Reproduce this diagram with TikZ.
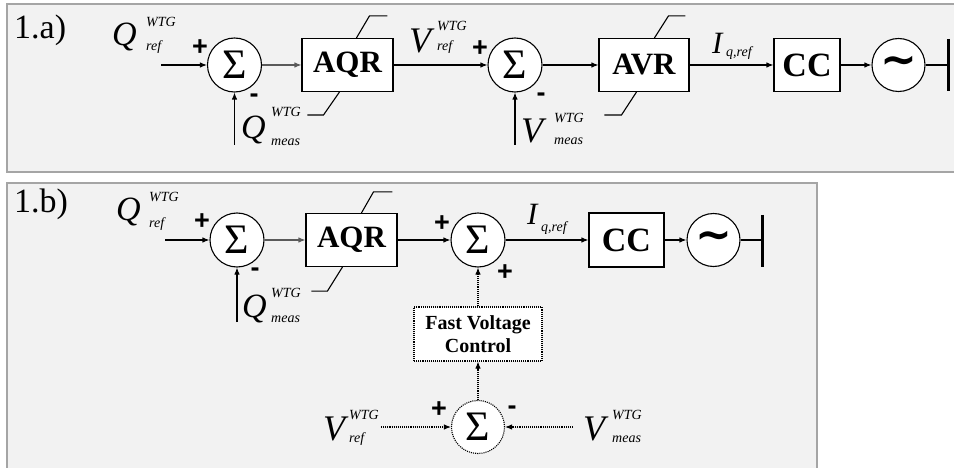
\documentclass[tikz,border=0pt]{standalone}
\usepackage{fontspec}
\setmainfont{Liberation Serif}
\newfontfamily\sgnfont{Liberation Sans}
\newfontfamily\djv{DejaVu Sans}
\usetikzlibrary{arrows.meta,calc}
\definecolor{panelfill}{HTML}{F2F2F2}
\definecolor{panelborder}{HTML}{A5A5A5}
\definecolor{darkarrow}{HTML}{5A5A5A}
\begin{document}
\begin{tikzpicture}[x=1pt,y=-1pt,
  panel/.style={fill=panelfill,draw=panelborder,line width=1.5pt},
  blk/.style={draw,fill=white,line width=1.1pt,inner sep=0pt,minimum height=53pt,font=\fontsize{31}{31}\selectfont\bfseries},
  sumn/.style={circle,draw,fill=white,line width=1.1pt,minimum size=54pt,inner sep=0pt,font=\fontsize{42}{42}\selectfont},
  gen/.style={circle,draw,fill=white,line width=1.1pt,minimum size=53pt,inner sep=0pt,font=\fontsize{44}{44}\selectfont\djv\bfseries},
  sgn/.style={inner sep=0pt,font=\fontsize{27}{27}\selectfont\sgnfont\bfseries},
  bigQ/.style={inner sep=0pt,anchor=base west,font=\fontsize{34}{34}\selectfont\itshape},
  bigV/.style={inner sep=0pt,anchor=base west,font=\fontsize{36}{36}\selectfont\itshape},
  bigI/.style={inner sep=0pt,anchor=base west,font=\fontsize{31}{31}\selectfont\itshape},
  sml/.style={inner sep=0pt,anchor=base west,font=\fontsize{14}{14}\selectfont\itshape},
  ttl/.style={inner sep=0pt,anchor=base west,font=\fontsize{34}{34}\selectfont},
  sig/.style={-{Latex[length=7pt,width=5.5pt]},line width=1.1pt},
  dsig/.style={sig,densely dotted},
  lim/.style={line width=1.1pt},
  bus/.style={line width=3pt}
]
\useasboundingbox (0,0) rectangle (954,468);
% panels
\path[panel] (7,4) rectangle (962,172);
\path[panel] (7,183) rectangle (817,476);

% ---------- panel 1.a ----------
\node[ttl] (ta) at (14,39) {1.a)};
\node[sumn] (s1a) at (234.5,65) {Σ};
\node[blk,minimum width=91pt] (aqra) at (347.5,65) {AQR};
\node[sumn] (s2a) at (515,65) {Σ};
\node[blk,minimum width=90pt] (avra) at (644,65) {AVR};
\node[blk,minimum width=66pt,font=\fontsize{34}{34}\selectfont\bfseries] (cca) at (807,65) {CC};
\node[gen] (gena) at (898.5,65) {∼};
\coordinate (busa) at (948,65);
\coordinate (busat) at (948,39);
\coordinate (busab) at (948,91);
\coordinate (qina) at (161,65);
\coordinate (qma) at (234.5,145);
\coordinate (vma) at (515,145);

\draw[sig] (qina) -- (s1a);
\draw[sig] (qma) -- (s1a);
\draw[sig,darkarrow] (s1a) -- (aqra);
\draw[sig] (aqra) -- (s2a);
\draw[sig] (vma) -- (s2a);
\draw[sig] (s2a) -- (avra);
\draw[sig] (avra) -- (cca);
\draw[sig] (cca) -- (gena);
\draw[line width=1.1pt] (gena) -- (busa);
\draw[bus] (busat) -- (busab);

\draw[lim] ($(aqra.north west)+(55,0)$) -- ++(13,-22) -- ++(18,0);
\draw[lim] ($(aqra.south west)+(38,0)$) -- ++(-16,23) -- ++(-16,0);
\draw[lim] ($(avra.north west)+(56,0)$) -- ++(14,-22) -- ++(17,0);
\draw[lim] ($(avra.south west)+(38,0)$) -- ++(-15,23) -- ++(-17,0);

\node[sgn] (p1a) at (200,48) {+};
\node[sgn] (m1a) at (254,98) {-};
\node[sgn] (p2a) at (480,49) {+};
\node[sgn] (m2a) at (541,97) {-};

\node[bigQ] (qra) at (112,46) {Q};
\node[sml] (qraw) at (146,27) {WTG};
\node[sml] (qrar) at (146,51) {ref};
\node[bigQ] (qmla) at (241,139) {Q};
\node[sml] (qmlaw) at (271,117) {WTG};
\node[sml] (qmlam) at (271,146) {meas};
\node[bigV] (vra) at (409,53) {V};
\node[sml] (vraw) at (437,31) {WTG};
\node[sml] (vrar) at (437,51) {ref};
\node[bigV] (vmla) at (521,143) {V};
\node[sml] (vmlaw) at (554,123) {WTG};
\node[sml] (vmlam) at (554,145) {meas};
\node[bigI] (ia) at (712,54) {I};
\node[sml] (iasub) at (726,57) {q,ref};

% ---------- panel 1.b ----------
\node[ttl] (tb) at (14,213) {1.b)};
\node[sumn] (s1b) at (237,240) {Σ};
\node[blk,minimum width=91pt] (aqrb) at (351.5,240) {AQR};
\node[sumn] (s2b) at (478,240) {Σ};
\node[blk,minimum width=75pt,minimum height=54pt,font=\fontsize{34}{34}\selectfont\bfseries] (ccb) at (626.5,240) {CC};
\node[gen] (genb) at (713.5,240) {∼};
\coordinate (busb) at (762,240);
\coordinate (busbt) at (762,215);
\coordinate (busbb) at (762,267);
\coordinate (qinb) at (165,240);
\coordinate (qmb) at (237,322);
\node[draw,densely dotted,fill=white,line width=1.1pt,minimum width=128pt,minimum height=54pt,inner sep=0pt,align=center,
      font=\fontsize{20}{23}\selectfont\bfseries] (fvc) at (478,334) {Fast Voltage\\Control};
\node[sumn,densely dotted,minimum size=53pt] (s3b) at (478,427) {Σ};
\coordinate (vrin) at (381,427);
\coordinate (vmin) at (573,427);

\draw[sig] (qinb) -- (s1b);
\draw[sig] (qmb) -- (s1b);
\draw[sig,darkarrow] (s1b) -- (aqrb);
\draw[sig] (aqrb) -- (s2b);
\draw[sig] (s2b) -- (ccb);
\draw[sig] (ccb) -- (genb);
\draw[line width=1.1pt] (genb) -- (busb);
\draw[bus] (busbt) -- (busbb);
\draw[dsig] (fvc) -- (s2b);
\draw[dsig] (s3b) -- (fvc);
\draw[dsig] (vrin) -- (s3b);
\draw[dsig] (vmin) -- (s3b);

\draw[lim] ($(aqrb.north west)+(56,0)$) -- ++(12,-21) -- ++(19,0);
\draw[lim] ($(aqrb.south west)+(37,0)$) -- ++(-15,24) -- ++(-16,0);

\node[sgn] (p1b) at (202,222) {+};
\node[sgn] (m1b) at (255,272) {-};
\node[sgn] (p2b) at (442,224) {+};
\node[sgn] (p3b) at (505,273) {+};
\node[sgn] (p4b) at (439,410) {+};
\node[sgn] (m4b) at (512,410) {-};

\node[bigQ] (qrb) at (116,221) {Q};
\node[sml] (qrbw) at (149,202) {WTG};
\node[sml] (qrbr) at (149,228) {ref};
\node[bigQ] (qmlb) at (242,317) {Q};
\node[sml] (qmlbw) at (271,297) {WTG};
\node[sml] (qmlbm) at (271,322) {meas};
\node[bigI] (ib) at (527,225) {I};
\node[sml] (ibsub) at (541,232) {q,ref};
\node[bigV] (vrb) at (323,440) {V};
\node[sml] (vrbw) at (349,419) {WTG};
\node[sml] (vrbr) at (349,442) {ref};
\node[bigV] (vmlb) at (583,440) {V};
\node[sml] (vmlbw) at (612,419) {WTG};
\node[sml] (vmlbm) at (612,442) {meas};
\end{tikzpicture}
\end{document}
